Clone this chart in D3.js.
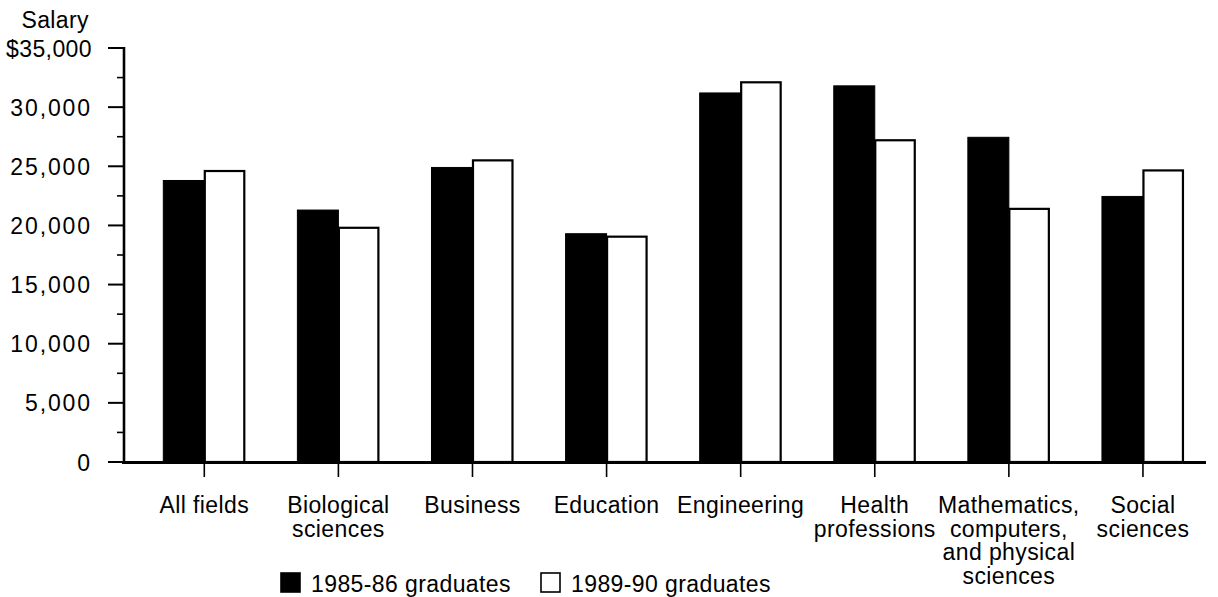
<!DOCTYPE html>
<html>
<head>
<meta charset="utf-8">
<script src="https://cdn.jsdelivr.net/npm/d3@7"></script>
<style>
  html, body { margin: 0; padding: 0; background: #fff; }
  svg { display: block; }
  text { font-family: "Liberation Sans", Arial, Helvetica, sans-serif; fill: #000; }
</style>
</head>
<body>
<svg id="chart" width="1218" height="597"></svg>
<script>
// ---- data ----
const categories = [
  ["All fields"],
  ["Biological", "sciences"],
  ["Business"],
  ["Education"],
  ["Engineering"],
  ["Health", "professions"],
  ["Mathematics,", "computers,", "and physical", "sciences"],
  ["Social", "sciences"]
];
const seriesNames = ["1985-86 graduates", "1989-90 graduates"];
const grad1985 = [23800, 21300, 24900, 19300, 31200, 31800, 27450, 22450];
const grad1989 = [24600, 19800, 25500, 19050, 32100, 27200, 21400, 24650];
const yTickValues = [0, 5000, 10000, 15000, 20000, 25000, 30000, 35000];
const yTickLabels = ["0", "5,000", "10,000", "15,000", "20,000", "25,000", "30,000", "$35,000"];
const yMinorTicks = [2500, 7500, 12500, 17500, 22500, 27500, 32500];
const yAxisTitle = "Salary";

// ---- layout ----
const svg = d3.select("#chart");
const axisX = 124, baseY = 462, topY = 48;
const catKeys = categories.map((c, i) => "c" + i);

const y = d3.scaleLinear().domain([0, 35000]).range([baseY, topY]);
const p = 1 - 82 / 134.1;
const x = d3.scaleBand().domain(catKeys).range([137.25, 1210]).paddingInner(p).paddingOuter(p / 2);
const xs = d3.scaleBand().domain(["a", "b"]).range([0, x.bandwidth()]).padding(0);

// ---- bars ----
const data = catKeys.map((k, i) => ({ k, vals: [grad1985[i], grad1989[i]] }));
const groups = svg.append("g").selectAll("g").data(data).join("g")
  .attr("transform", d => `translate(${x(d.k)},0)`);
groups.selectAll("rect").data(d => d.vals.map((v, j) => ({ v, j }))).join("rect")
  .attr("x", d => xs(d.j === 0 ? "a" : "b") + (d.j === 0 ? 0 : 0.5))
  .attr("y", d => y(d.v))
  .attr("width", d => xs.bandwidth() - (d.j === 0 ? 0 : 1.5))
  .attr("height", d => baseY - y(d.v))
  .attr("fill", d => d.j === 0 ? "#000" : "#fff")
  .attr("stroke", "#000")
  .attr("stroke-width", d => d.j === 0 ? 1 : 2.2);

// ---- y axis ----
const yAxis = svg.append("g");
yAxis.append("line").attr("x1", axisX).attr("x2", axisX)
  .attr("y1", y(35000) - 1).attr("y2", baseY + 1.5)
  .attr("stroke", "#000").attr("stroke-width", 2.6);
yAxis.selectAll("line.maj").data(yTickValues).join("line").attr("class", "maj")
  .attr("x1", axisX - 16).attr("x2", axisX)
  .attr("y1", d => y(d)).attr("y2", d => y(d))
  .attr("stroke", "#000").attr("stroke-width", 2);
yAxis.selectAll("line.min").data(yMinorTicks).join("line").attr("class", "min")
  .attr("x1", axisX - 7).attr("x2", axisX)
  .attr("y1", d => y(d)).attr("y2", d => y(d))
  .attr("stroke", "#000").attr("stroke-width", 1.6);
yAxis.selectAll("text.tl").data(yTickValues).join("text").attr("class", "tl")
  .attr("x", 92).attr("y", d => y(d) + 8.5)
  .attr("text-anchor", "end")
  .style("font-size", "23px")
  .style("letter-spacing", (d, i) => i === 7 ? "0.4px" : "1.9px")
  .text((d, i) => yTickLabels[i]);
svg.append("text").attr("x", 89).attr("y", 28).attr("text-anchor", "end")
  .style("font-size", "23px").style("letter-spacing", "0.4px").text(yAxisTitle);

// ---- x axis ----
const xAxis = svg.append("g");
xAxis.append("line").attr("x1", axisX - 2).attr("x2", 1206)
  .attr("y1", baseY + 0.5).attr("y2", baseY + 0.5)
  .attr("stroke", "#000").attr("stroke-width", 3);
xAxis.selectAll("line.xt").data(catKeys).join("line").attr("class", "xt")
  .attr("x1", d => x(d) + x.bandwidth() / 2).attr("x2", d => x(d) + x.bandwidth() / 2)
  .attr("y1", baseY).attr("y2", baseY + 15)
  .attr("stroke", "#000").attr("stroke-width", 1.6);
const lbl = xAxis.selectAll("text.xl").data(catKeys).join("text").attr("class", "xl")
  .attr("text-anchor", "middle")
  .style("font-size", "23px").style("letter-spacing", "0.4px");
lbl.each(function (d, i) {
  const t = d3.select(this);
  categories[i].forEach((line, li) => {
    t.append("tspan").attr("x", x(d) + x.bandwidth() / 2).attr("y", 513 + li * 23.5).text(line);
  });
});

// ---- legend ----
const legend = svg.append("g");
const legendItems = [
  { name: seriesNames[0], box: 280, text: 311, fill: "#000" },
  { name: seriesNames[1], box: 540, text: 571, fill: "#fff" }
];
legend.selectAll("rect").data(legendItems).join("rect")
  .attr("x", d => d.box + 1).attr("y", 573).attr("width", 19).attr("height", 19)
  .attr("fill", d => d.fill).attr("stroke", "#000").attr("stroke-width", 1.6);
legend.selectAll("text").data(legendItems).join("text")
  .attr("x", d => d.text).attr("y", 592)
  .style("font-size", "23px").style("letter-spacing", "0.4px")
  .text(d => d.name);
</script>
</body>
</html>
